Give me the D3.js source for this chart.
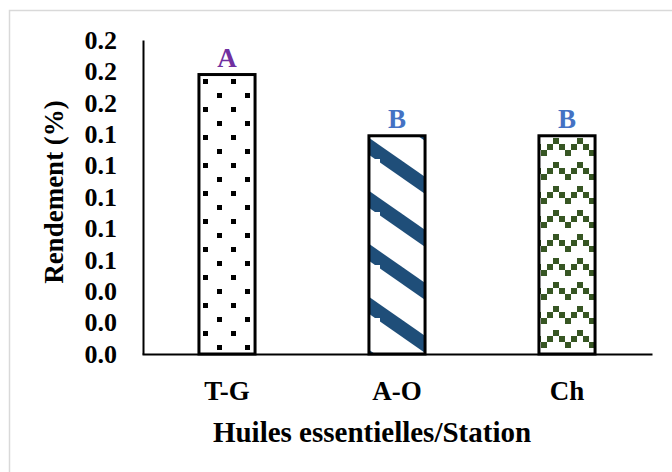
<!DOCTYPE html>
<html>
<head>
<meta charset="UTF-8">
<title>Rendement</title>
<script src="https://d3js.org/d3.v7.min.js"></script>
<style>
  body { margin: 0; background: #fff; }
  svg text { font-family: "Liberation Serif", "Times New Roman", serif; font-weight: bold; }
</style>
</head>
<body>
<div id="chart"></div>
<script>
// data
const categories = ["T-G", "A-O", "Ch"];
const values = [0.178, 0.139, 0.139];
const groupLetters = ["A", "B", "B"];
const letterColors = ["#7030A0", "#4472C4", "#4472C4"];
const yTicks = [0, 0.02, 0.04, 0.06, 0.08, 0.10, 0.12, 0.14, 0.16, 0.18, 0.20];

const width = 672, height = 472;

const svg = d3.select("#chart").append("svg")
    .attr("width", width)
    .attr("height", height);

// frame of the chart area
svg.append("rect")
    .attr("x", 9.5).attr("y", 10.5)
    .attr("width", 700).attr("height", 500)
    .attr("fill", "#fff")
    .attr("stroke", "#d9d9d9")
    .attr("stroke-width", 1.5);

const defs = svg.append("defs");

// dots
const dots = defs.append("pattern")
    .attr("id", "pat-dots")
    .attr("patternUnits", "userSpaceOnUse")
    .attr("x", 203).attr("y", 79)
    .attr("width", 28).attr("height", 28);
dots.append("rect").attr("width", 28).attr("height", 28).attr("fill", "#fff");
dots.append("rect").attr("x", 0).attr("y", 0).attr("width", 5).attr("height", 5).attr("fill", "#000");
dots.append("rect").attr("x", 14).attr("y", 14).attr("width", 5).attr("height", 5).attr("fill", "#000");

// diagonal stripes
const stripes = defs.append("pattern")
    .attr("id", "pat-stripes")
    .attr("patternUnits", "userSpaceOnUse")
    .attr("width", 76).attr("height", 53);
stripes.append("rect").attr("width", 76).attr("height", 53).attr("fill", "#fff");
[-1, 0, 1].forEach(k => {
  stripes.append("line")
      .attr("x1", -6).attr("y1", 48 + 53 * k - 6 * 0.697)
      .attr("x2", 82).attr("y2", 48 + 53 * k + 82 * 0.697)
      .attr("stroke", "#1F4E79")
      .attr("stroke-width", 14);
});

// zigzag
const zig = defs.append("pattern")
    .attr("id", "pat-zigzag")
    .attr("patternUnits", "userSpaceOnUse")
    .attr("x", 541).attr("y", 138)
    .attr("width", 24).attr("height", 24);
zig.append("rect").attr("width", 24).attr("height", 24).attr("fill", "#fff");
[[0, 12], [6, 6], [12, 0], [18, 6]].forEach(p => {
  zig.append("rect")
      .attr("x", p[0]).attr("y", p[1])
      .attr("width", 6).attr("height", 6)
      .attr("fill", "#375623");
});

const fills = ["url(#pat-dots)", "url(#pat-stripes)", "url(#pat-zigzag)"];

const x = d3.scaleBand()
    .domain(categories)
    .range([142, 652])
    .paddingInner(0.67)
    .paddingOuter(0.335);

const y = d3.scaleLinear()
    .domain([0, 0.2])
    .range([354, 40]);

// bars
svg.selectAll("rect.bar")
    .data(values)
    .join("rect")
    .attr("class", "bar")
    .attr("x", (d, i) => x(categories[i]))
    .attr("y", d => y(d))
    .attr("width", x.bandwidth())
    .attr("height", d => y(0) - y(d))
    .attr("fill", (d, i) => fills[i])
    .attr("stroke", "#000")
    .attr("stroke-width", 3);

// letters above bars
svg.selectAll("text.letter")
    .data(values)
    .join("text")
    .attr("class", "letter")
    .attr("x", (d, i) => x(categories[i]) + x.bandwidth() / 2)
    .attr("y", d => y(d) - 8)
    .attr("text-anchor", "middle")
    .attr("font-size", 27)
    .attr("fill", (d, i) => letterColors[i])
    .text((d, i) => groupLetters[i]);

// y axis
const yAxis = svg.append("g")
    .attr("transform", "translate(143,0)")
    .call(d3.axisLeft(y).tickValues(yTicks).tickSize(0).tickPadding(26).tickFormat(d3.format(".1f")));
yAxis.select(".domain").attr("stroke", "#000").attr("stroke-width", 2);
yAxis.selectAll("text")
    .attr("font-size", 26)
    .attr("fill", "#000")
    .attr("font-family", "Liberation Serif")
    .attr("font-weight", "bold");

// x axis
const xAxis = svg.append("g")
    .attr("transform", "translate(0,354)")
    .call(d3.axisBottom(x).tickSize(0).tickPadding(0));
xAxis.select(".domain").attr("stroke", "#000").attr("stroke-width", 2);
xAxis.selectAll("text")
    .attr("y", 46)
    .attr("dy", 0)
    .attr("font-size", 27)
    .attr("fill", "#000")
    .attr("font-family", "Liberation Serif")
    .attr("font-weight", "bold");

// axis titles
svg.append("text")
    .attr("transform", "translate(63,192) rotate(-90)")
    .attr("text-anchor", "middle")
    .attr("font-size", 27)
    .attr("fill", "#000")
    .text("Rendement (%)");

svg.append("text")
    .attr("x", 372)
    .attr("y", 442)
    .attr("text-anchor", "middle")
    .attr("font-size", 29)
    .attr("fill", "#000")
    .text("Huiles essentielles/Station");
</script>
</body>
</html>
